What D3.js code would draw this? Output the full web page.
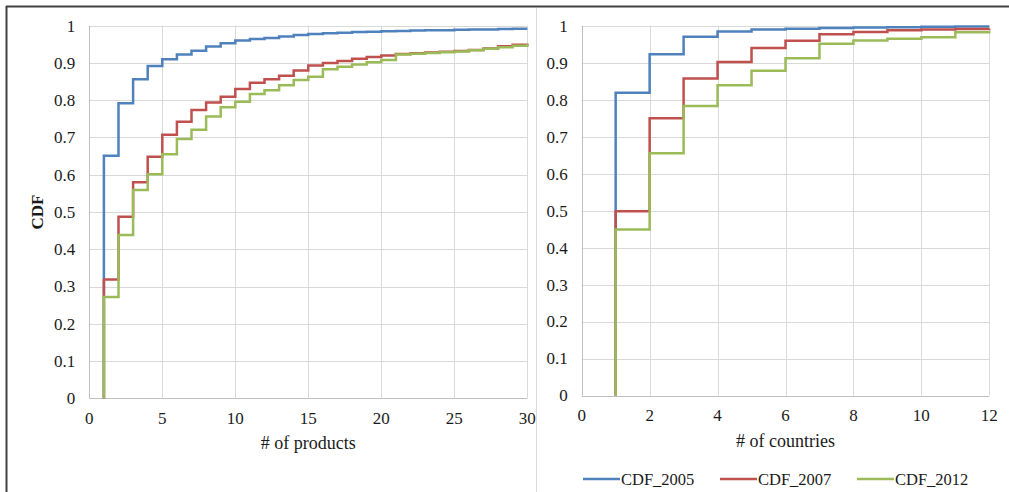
<!DOCTYPE html>
<html><head><meta charset="utf-8">
<script src="https://cdn.jsdelivr.net/npm/d3@7"></script>
<style>
html,body{margin:0;padding:0;background:#fff;}
svg text{font-family:"Liberation Serif","Times New Roman",serif;fill:#1a1a1a;}
</style></head>
<body>
<svg id="chart" width="1009" height="492"></svg>
<script>
// ---- data ----
const productX = d3.range(1, 31);
const prod2005 = [0.651,0.792,0.856,0.892,0.910,0.923,0.933,0.944,0.953,0.960,0.964,0.967,0.971,0.975,0.978,0.980,0.981,0.983,0.984,0.985,0.986,0.987,0.988,0.988,0.989,0.990,0.990,0.991,0.992,0.992];
const prod2007 = [0.319,0.487,0.580,0.648,0.707,0.742,0.774,0.794,0.809,0.830,0.847,0.856,0.866,0.880,0.893,0.900,0.905,0.911,0.916,0.920,0.924,0.926,0.928,0.930,0.932,0.935,0.939,0.945,0.949,0.952];
const prod2012 = [0.272,0.438,0.559,0.601,0.655,0.696,0.721,0.756,0.781,0.796,0.817,0.827,0.840,0.854,0.863,0.883,0.890,0.896,0.902,0.908,0.923,0.925,0.927,0.929,0.931,0.934,0.938,0.942,0.946,0.951];

const countryX = d3.range(1, 13);
const ctry2005 = [0.819,0.923,0.970,0.984,0.990,0.992,0.994,0.995,0.996,0.997,0.998,0.998];
const ctry2007 = [0.498,0.750,0.857,0.902,0.940,0.959,0.977,0.983,0.988,0.990,0.991,0.992];
const ctry2012 = [0.449,0.655,0.783,0.839,0.878,0.912,0.951,0.960,0.965,0.969,0.982,0.985];

const seriesNames = ["CDF_2005","CDF_2007","CDF_2012"];
const seriesColors = ["#4F81BD","#C0504D","#9BBB59"];
const yTicks = [0,0.1,0.2,0.3,0.4,0.5,0.6,0.7,0.8,0.9,1];
const yTickLabels = ["0","0.1","0.2","0.3","0.4","0.5","0.6","0.7","0.8","0.9","1"];
const productTicks = [0,5,10,15,20,25,30];
const countryTicks = [0,2,4,6,8,10,12];

const svg = d3.select("#chart");

// frame
svg.append("line").attr("x1",6).attr("x2",1009).attr("y1",6.5).attr("y2",6.5).attr("stroke","#404040").attr("stroke-width",2);
svg.append("line").attr("x1",6.5).attr("x2",6.5).attr("y1",6).attr("y2",492).attr("stroke","#404040").attr("stroke-width",2);
svg.append("line").attr("x1",536.5).attr("x2",536.5).attr("y1",8).attr("y2",492).attr("stroke","#d9d9d9").attr("stroke-width",1);

function panel(cfg){
  const x = d3.scaleLinear().domain(cfg.xDomain).range(cfg.xRange);
  const y = d3.scaleLinear().domain([0,1]).range(cfg.yRange);
  const g = svg.append("g");
  // gridlines
  g.selectAll(".hg").data(yTicks).join("line")
    .attr("x1",x.range()[0]).attr("x2",x.range()[1])
    .attr("y1",d=>Math.round(y(d))+0.5).attr("y2",d=>Math.round(y(d))+0.5)
    .attr("stroke",d=>d===0?"#bfbfbf":"#d9d9d9").attr("stroke-width",1);
  g.selectAll(".vg").data(cfg.xTicks).join("line")
    .attr("x1",d=>Math.round(x(d))+0.5).attr("x2",d=>Math.round(x(d))+0.5)
    .attr("y1",y(0)).attr("y2",y(1))
    .attr("stroke",d=>d===0?"#bfbfbf":"#d9d9d9").attr("stroke-width",1);
  // y tick labels
  g.selectAll(".yl").data(yTicks).join("text")
    .attr("x",x.range()[0]-14).attr("y",d=>y(d)).attr("dy","0.35em")
    .attr("text-anchor","end").attr("font-size",17)
    .text((d,i)=>yTickLabels[i]);
  // x tick labels
  g.selectAll(".xl").data(cfg.xTicks).join("text")
    .attr("x",d=>x(d)).attr("y",y(0)+20).attr("dy","0.35em")
    .attr("text-anchor","middle").attr("font-size",17)
    .text(d=>String(d));
  // title
  g.append("text").attr("x",(x.range()[0]+x.range()[1])/2).attr("y",cfg.titleY)
    .attr("text-anchor","middle").attr("font-size",18).text(cfg.title);
  // lines
  const line = d3.line().x(d=>x(d[0])).y(d=>y(d[1])).curve(d3.curveStepAfter);
  cfg.series.forEach((vals,i)=>{
    const pts = [[cfg.xs[0],0]].concat(cfg.xs.map((xv,j)=>[xv,vals[j]]));
    g.append("path").attr("d",line(pts)).attr("fill","none")
      .attr("stroke",seriesColors[i]).attr("stroke-width",2.5)
      .attr("stroke-linejoin","miter");
  });
  return {x,y};
}

panel({xDomain:[0,30], xRange:[89.3,527.3], yRange:[398.3,25.7], xTicks:productTicks,
  title:"# of products", titleY:449, xs:productX, series:[prod2005,prod2007,prod2012]});
panel({xDomain:[0,12], xRange:[581.7,989.3], yRange:[395.5,25.7], xTicks:countryTicks,
  title:"# of countries", titleY:447, xs:countryX, series:[ctry2005,ctry2007,ctry2012]});

// CDF y title
svg.append("text").attr("transform","translate(43,212) rotate(-90)")
  .attr("text-anchor","middle").attr("font-size",17).attr("font-weight","bold").text("CDF");

// legend
const legendX = [583,720,857];
const lg = svg.append("g");
seriesNames.forEach((n,i)=>{
  lg.append("line").attr("x1",legendX[i]).attr("x2",legendX[i]+37)
    .attr("y1",479).attr("y2",479).attr("stroke",seriesColors[i]).attr("stroke-width",2.5);
  lg.append("text").attr("x",legendX[i]+38).attr("y",479).attr("dy","0.35em")
    .attr("font-size",16.5).text(n);
});
</script>
</body></html>
